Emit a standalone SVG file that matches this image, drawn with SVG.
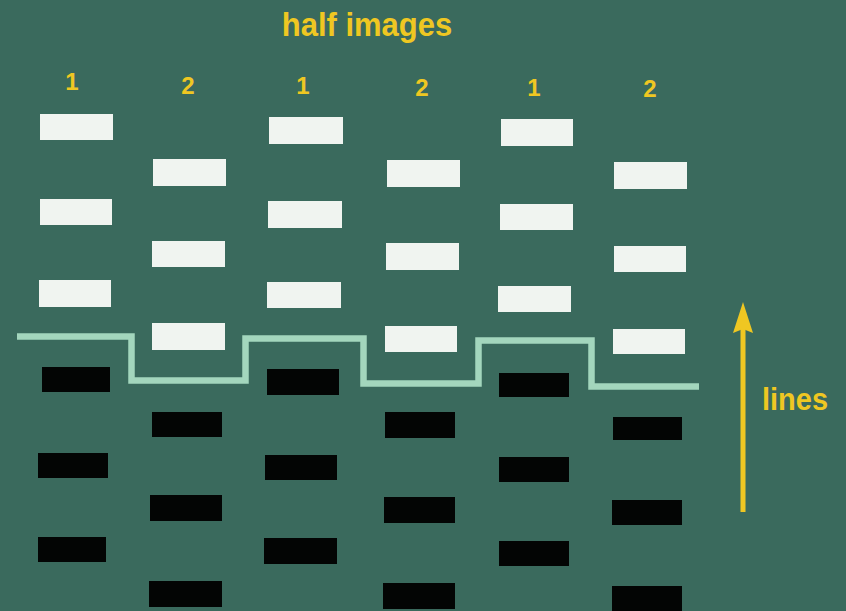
<svg xmlns="http://www.w3.org/2000/svg" width="846" height="611" viewBox="0 0 846 611">
<defs>
<style>
.bg{fill:#3a6a5d}
.w{fill:#f0f4f0}
.b{fill:#030504}
.lbl{font-family:"Liberation Sans",Arial,sans-serif;font-weight:bold;fill:#efc722}
.num{font-size:24px;text-anchor:middle}
.step{fill:none;stroke:#a3d6bd;stroke-width:6.5;stroke-linejoin:miter}
.arr{stroke:#efc722;stroke-width:5;fill:none}
</style>
</defs>
<rect class="bg" x="0" y="0" width="846" height="611"/>
<g id="title"><text class="lbl" transform="translate(367,36) scale(1,1.09)" x="0" y="0" font-size="31" text-anchor="middle">half images</text></g>
<g id="numbers">
<text class="lbl num" x="72" y="90">1</text>
<text class="lbl num" x="188" y="94">2</text>
<text class="lbl num" x="303" y="94">1</text>
<text class="lbl num" x="422" y="96">2</text>
<text class="lbl num" x="534" y="96">1</text>
<text class="lbl num" x="650" y="97">2</text>
</g>
<g id="col1">
<rect class="w" x="40" y="114" width="73" height="26"/>
<rect class="w" x="40" y="199" width="72" height="26"/>
<rect class="w" x="39" y="280" width="72" height="27"/>
<rect class="b" x="42" y="367" width="68" height="25"/>
<rect class="b" x="38" y="453" width="70" height="25"/>
<rect class="b" x="38" y="537" width="68" height="25"/>
</g>
<g id="col2">
<rect class="w" x="153" y="159" width="73" height="27"/>
<rect class="w" x="152" y="241" width="73" height="26"/>
<rect class="w" x="152" y="323" width="73" height="27"/>
<rect class="b" x="152" y="412" width="70" height="25"/>
<rect class="b" x="150" y="495" width="72" height="26"/>
<rect class="b" x="149" y="581" width="73" height="26"/>
</g>
<g id="col3">
<rect class="w" x="269" y="117" width="74" height="27"/>
<rect class="w" x="268" y="201" width="74" height="27"/>
<rect class="w" x="267" y="282" width="74" height="26"/>
<rect class="b" x="267" y="369" width="72" height="26"/>
<rect class="b" x="265" y="455" width="72" height="25"/>
<rect class="b" x="264" y="538" width="73" height="26"/>
</g>
<g id="col4">
<rect class="w" x="387" y="160" width="73" height="27"/>
<rect class="w" x="386" y="243" width="73" height="27"/>
<rect class="w" x="385" y="326" width="72" height="26"/>
<rect class="b" x="385" y="412" width="70" height="26"/>
<rect class="b" x="384" y="497" width="71" height="26"/>
<rect class="b" x="383" y="583" width="72" height="26"/>
</g>
<g id="col5">
<rect class="w" x="501" y="119" width="72" height="27"/>
<rect class="w" x="500" y="204" width="73" height="26"/>
<rect class="w" x="498" y="286" width="73" height="26"/>
<rect class="b" x="499" y="373" width="70" height="24"/>
<rect class="b" x="499" y="457" width="70" height="25"/>
<rect class="b" x="499" y="541" width="70" height="25"/>
</g>
<g id="col6">
<rect class="w" x="614" y="162" width="73" height="27"/>
<rect class="w" x="614" y="246" width="72" height="26"/>
<rect class="w" x="613" y="329" width="72" height="25"/>
<rect class="b" x="613" y="417" width="69" height="23"/>
<rect class="b" x="612" y="500" width="70" height="25"/>
<rect class="b" x="612" y="586" width="70" height="25"/>
</g>
<g id="connectors">
<path class="step" d="M17,336.5 H131.5 V380.5 H245.5 V338.5 H363.5 V383.5 H478.5 V340.5 H591.5 V386.5 H699"/>
<line class="arr" x1="743" y1="512" x2="743" y2="325"/>
<path d="M743,302 L753,333 L743,329 L733,333 Z" fill="#efc722"/>
</g>
<g id="lines-label"><text class="lbl" transform="translate(762,410) scale(1,1.1)" x="0" y="0" font-size="29">lines</text></g>
</svg>
